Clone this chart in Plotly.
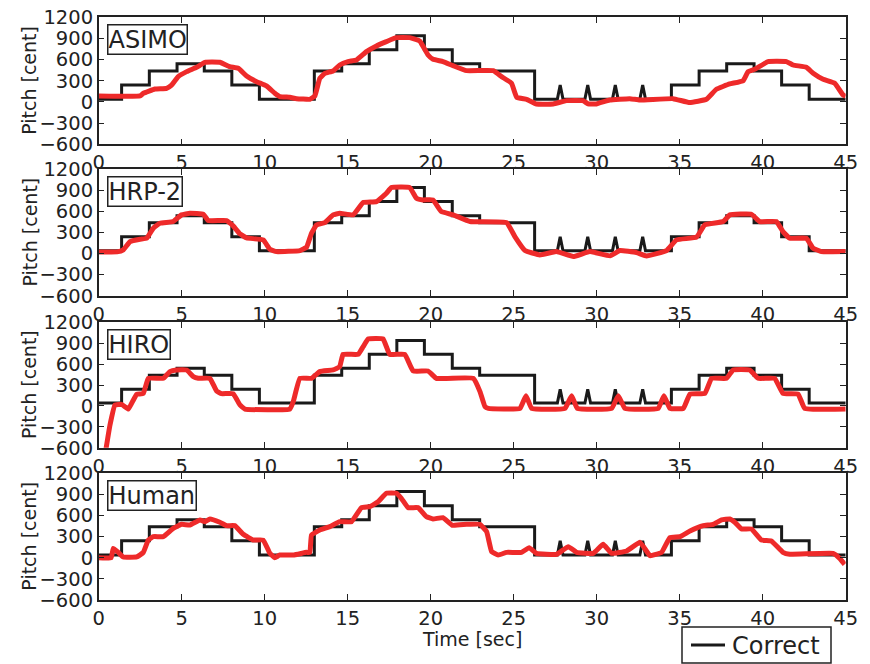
import plotly.graph_objects as go

# ---------------- data ----------------
correct_time = [0, 1.38, 1.38, 3.05, 3.05, 4.72, 4.72, 6.36, 6.36, 8.02, 8.02, 9.68, 9.68, 12.99, 12.99,
                14.64, 14.64, 16.30, 16.30, 17.96, 17.96, 19.62, 19.62, 21.30, 21.30, 22.95, 22.95,
                26.26, 26.26, 27.63, 27.80, 27.97, 29.29, 29.46, 29.63, 30.95, 31.12, 31.29,
                32.60, 32.77, 32.94, 34.50, 34.50, 36.17, 36.17, 37.83, 37.83, 39.48, 39.48,
                41.14, 41.14, 42.80, 42.80, 45]
correct_cents = [40, 40, 240, 240, 440, 440, 540, 540, 440, 440, 240, 240, 40, 40, 440,
                 440, 540, 540, 740, 740, 940, 940, 740, 740, 540, 540, 440,
                 440, 40, 40, 240, 40, 40, 240, 40, 40, 240, 40,
                 40, 240, 40, 40, 240, 240, 440, 440, 540, 540, 440,
                 440, 240, 240, 40, 40]

asimo_time = [0, 2.49, 2.69, 3.39, 4.09, 4.39, 4.79, 5.30, 5.90, 6.40, 7.30, 7.90, 8.41, 8.91, 9.51,
              10.11, 10.61, 10.91, 11.51, 11.92, 12.72, 13.02, 13.32, 13.62, 14.12, 14.52, 15.02,
              15.53, 16.13, 16.73, 17.33, 17.93, 18.74, 19.34, 19.84, 20.14, 20.74, 21.34, 22.16,
              23.77, 24.27, 24.87, 25.18, 25.78, 26.37, 27.38, 28.18, 29.18, 29.48, 29.98, 30.78,
              31.99, 32.59, 34.60, 35.60, 36.61, 37.21, 38.01, 38.82, 39.12, 39.52, 40.32, 41.43,
              41.83, 42.63, 43.04, 43.64, 44.34, 44.84, 45]
asimo_cents = [85, 85, 123, 184, 194, 240, 359, 430, 491, 562, 562, 500, 477, 368, 288,
               227, 123, 76, 66, 47, 38, 85, 335, 406, 439, 524, 572,
               595, 713, 794, 855, 912, 912, 864, 666, 605, 572, 515, 444,
               444, 359, 265, 66, 38, -28, -28, 19, 19, -28, -28, 28,
               47, 28, 47, -9, 38, 180, 255, 302, 430, 463, 572, 572,
               524, 491, 406, 321, 265, 99, 80]

hrp2_time = [0, 1.10, 1.48, 1.89, 2.49, 2.89, 3.29, 3.69, 4.49, 4.99, 5.50, 6.30, 6.60, 7.70, 8.10,
             8.51, 8.91, 9.91, 10.31, 10.71, 12.12, 12.52, 12.82, 13.12, 13.62, 14.12, 14.52, 15.33,
             15.93, 16.73, 17.33, 17.63, 18.74, 19.14, 19.54, 20.14, 20.64, 21.36, 22.37, 24.57,
             25.07, 25.68, 26.58, 27.58, 28.59, 29.59, 30.80, 31.40, 32.40, 33.00, 34.21, 34.81,
             36.01, 36.51, 37.62, 38.02, 39.32, 39.82, 40.82, 41.22, 41.63, 42.63, 43.04, 43.54, 45]
hrp2_cents = [24, 24, 52, 171, 204, 218, 361, 432, 456, 551, 574, 560, 470, 470, 394,
              280, 223, 195, 62, 28, 43, 90, 290, 408, 441, 551, 574, 551,
              726, 740, 859, 940, 940, 788, 764, 764, 598, 551, 456, 441,
              242, 43, -19, 28, -43, 28, -33, 43, 14, -33, 43, 195,
              233, 408, 456, 551, 560, 456, 456, 313, 218, 218, 76, 28, 28]

hiro_time = [0.35, 0.68, 0.98, 1.38, 1.79, 2.09, 2.29, 2.69, 2.99, 3.89, 4.29, 4.69, 5.30, 5.70, 6.00,
             6.70, 7.10, 7.40, 8.10, 8.51, 8.81, 11.51, 11.72, 12.12, 12.82, 13.32, 14.12, 14.52,
             14.72, 15.63, 15.93, 16.23, 17.13, 17.53, 18.44, 18.94, 19.84, 20.34, 22.57, 22.97,
             23.27, 23.47, 25.38, 25.74, 26.08, 28.09, 28.49, 28.83, 30.90, 31.30, 31.70, 33.71,
             34.05, 34.41, 35.22, 35.62, 36.52, 36.92, 37.82, 38.22, 39.22, 39.72, 40.72, 41.22,
             42.13, 42.53, 45]
hiro_cents = [-750, -274, 13, 22, -45, 85, 166, 180, 396, 396, 492, 516, 516, 420, 396,
              396, 214, 176, 176, 13, -45, -45, 61, 396, 396, 492, 516, 563,
              740, 740, 850, 961, 961, 740, 740, 501, 501, 396, 396, 205,
              -11, -35, -35, 147, -35, -35, 147, -35, -35, 147, -35, -35,
              147, -35, -35, 171, 180, 396, 396, 516, 516, 396, 396, 180,
              171, -35, -45]

human_time = [0, 0.75, 0.88, 1.18, 1.48, 2.29, 2.69, 2.99, 3.29, 3.89, 4.49, 4.99, 5.50, 6.10, 6.40,
              6.70, 7.30, 7.70, 8.20, 8.71, 9.31, 9.91, 10.31, 10.61, 10.91, 11.72, 12.52, 12.72,
              12.82, 13.32, 13.92, 14.52, 15.23, 15.83, 16.33, 16.83, 17.33, 17.93, 18.23, 18.64,
              19.24, 19.74, 20.14, 20.74, 21.30, 22.16, 22.96, 23.37, 23.67, 24.07, 24.57, 25.47,
              25.93, 26.37, 27.58, 28.29, 28.79, 29.79, 30.39, 30.90, 31.80, 32.61, 33.21, 33.91,
              34.41, 35.02, 35.62, 36.42, 37.02, 37.52, 38.02, 38.32, 38.72, 39.32, 39.92, 40.52,
              41.22, 41.63, 44.24, 44.64, 44.94]
human_cents = [0, 0, 134, 77, 11, 11, 77, 252, 300, 300, 418, 475, 466, 537, 513,
               551, 504, 456, 456, 333, 252, 252, 63, 1, 39, 39, 77, 77,
               324, 395, 442, 513, 513, 712, 726, 797, 916, 916, 845, 712,
               712, 584, 551, 570, 462, 475, 475, 371, 87, 39, 77, 77,
               143, 63, 49, 158, 77, 63, 191, 63, 96, 219, 30, 77,
               286, 300, 380, 456, 475, 537, 551, 504, 409, 409, 252, 238,
               77, 49, 63, -8, -93]

panel_names = ["ASIMO", "HRP-2", "HIRO", "Human"]
panel_times = [asimo_time, hrp2_time, hiro_time, human_time]
panel_cents = [asimo_cents, hrp2_cents, hiro_cents, human_cents]

x_ticks = [0, 5, 10, 15, 20, 25, 30, 35, 40, 45]
y_ticks = [-600, -300, 0, 300, 600, 900, 1200]
legend_label = "Correct"

# ---------------- layout ----------------
W, H = 870, 664
x_dom = [98.7 / W, 845.7 / W]
panel_px = [(17.3, 144.3), (169.3, 295.7), (322.3, 447.7), (473.3, 600.0)]

FONT = "DejaVu Sans"
TXT = "#222222"
BLACK = "#1a1a1a"
RED = "#ee2a2a"

fig = go.Figure()

for i, name in enumerate(panel_names):
    xa = "x" if i == 0 else f"x{i+1}"
    ya = "y" if i == 0 else f"y{i+1}"
    fig.add_trace(go.Scatter(x=correct_time, y=correct_cents, mode="lines",
                             line=dict(color=BLACK, width=3), name=legend_label,
                             showlegend=False, xaxis=xa, yaxis=ya))
    fig.add_trace(go.Scatter(x=panel_times[i], y=panel_cents[i], mode="lines",
                             line=dict(color=RED, width=5, shape="spline", smoothing=0.3),
                             name=name, showlegend=False, xaxis=xa, yaxis=ya))

axis_common = dict(showline=True, linecolor=TXT, linewidth=1.5, mirror="ticks",
                   ticks="inside", ticklen=6, tickwidth=1.2, tickcolor=TXT,
                   showgrid=False, zeroline=False,
                   tickfont=dict(family=FONT, size=19.5, color=TXT))

layout = dict(width=W, height=H, margin=dict(l=0, r=0, t=0, b=0, autoexpand=False),
              plot_bgcolor="white", paper_bgcolor="white", showlegend=False,
              font=dict(family=FONT, color=TXT))
annotations = []
for i, name in enumerate(panel_names):
    top, bot = panel_px[i]
    y_dom = [1 - bot / H, 1 - top / H]
    xk = "xaxis" if i == 0 else f"xaxis{i+1}"
    yk = "yaxis" if i == 0 else f"yaxis{i+1}"
    ya = "y" if i == 0 else f"y{i+1}"
    layout[xk] = dict(axis_common, domain=x_dom, range=[0, 45], tickvals=x_ticks,
                      anchor=ya)
    layout[yk] = dict(axis_common, domain=y_dom, range=[-600, 1200], tickvals=y_ticks,
                      anchor="x" if i == 0 else f"x{i+1}")
    annotations.append(dict(x=107 / W, y=1 - (top + 7) / H, xref="paper", yref="paper",
                            xanchor="left", yanchor="top", text=name, showarrow=False,
                            font=dict(family=FONT, size=24, color=TXT),
                            bgcolor="white", bordercolor=TXT, borderwidth=1.5, borderpad=0))
    annotations.append(dict(x=29 / W, y=1 - (top + bot) / 2 / H, xref="paper", yref="paper",
                            xanchor="center", yanchor="middle",
                            text="Pitch [cent]", textangle=-90, showarrow=False,
                            font=dict(family=FONT, size=19, color=TXT)))

annotations.append(dict(x=472 / W, y=1 - 639 / H, xref="paper", yref="paper",
                        xanchor="center", yanchor="middle",
                        text="Time [sec]", showarrow=False,
                        font=dict(family=FONT, size=19, color=TXT)))

# legend box (drawn by hand so its height matches the reference)
leg_l, leg_r, leg_t, leg_b = 682, 831, 627, 663
leg_mid = (leg_t + leg_b) / 2
shapes = [
    dict(type="rect", xref="paper", yref="paper", x0=leg_l / W, x1=leg_r / W,
         y0=1 - leg_b / H, y1=1 - leg_t / H, line=dict(color=TXT, width=1.5),
         fillcolor="white", layer="above"),
    dict(type="line", xref="paper", yref="paper", x0=691 / W, x1=725 / W,
         y0=1 - leg_mid / H, y1=1 - leg_mid / H, line=dict(color=BLACK, width=3),
         layer="above"),
]
annotations.append(dict(x=730 / W, y=1 - (leg_mid + 1) / H, xref="paper", yref="paper",
                        xanchor="left", yanchor="middle", text=legend_label, showarrow=False,
                        font=dict(family=FONT, size=24, color=TXT)))
layout["annotations"] = annotations
layout["shapes"] = shapes
fig.update_layout(**layout)
fig.write_html("out.html")
